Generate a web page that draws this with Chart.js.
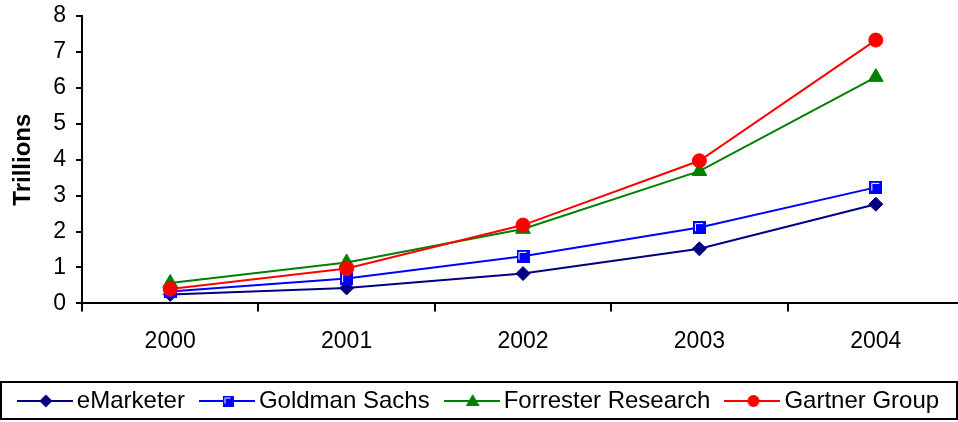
<!DOCTYPE html>
<html>
<head>
<meta charset="utf-8">
<script src="https://cdn.jsdelivr.net/npm/chart.js@4.4.1/dist/chart.umd.min.js"></script>
<style>
  html, body { margin: 0; padding: 0; background: #fff; overflow: hidden; }
  #wrap { width: 958px; height: 422px; overflow: hidden; }
</style>
</head>
<body>
<!-- canvas is a bit larger than the view: the plot runs past the right edge like the original -->
<div id="wrap"><canvas id="chart" width="964" height="427"></canvas></div>
<script>
// values (trillions)
const years = ["2000", "2001", "2002", "2003", "2004"];
const eMarketer = [0.25, 0.43, 0.83, 1.52, 2.76];
const goldmanSachs = [0.33, 0.69, 1.31, 2.11, 3.23];
const forresterResearch = [0.57, 1.14, 2.07, 3.68, 6.30];
const gartnerGroup = [0.40, 0.97, 2.18, 3.97, 7.33];

const seriesNames = ["eMarketer", "Goldman Sachs", "Forrester Research", "Gartner Group"];
const seriesColors = ["#000080", "#0000ff", "#008000", "#ff0000"];

const FONT = "'Liberation Sans', Arial, sans-serif";

// Excel-like square marker: blue with a white inner corner
function squareMarker(size) {
	const c = document.createElement("canvas");
	c.width = size; c.height = size;
	const g = c.getContext("2d");
	g.fillStyle = "#0000ff";
	g.fillRect(0, 0, size, size);
	g.strokeStyle = "#fff";
	g.lineWidth = 1;
	g.beginPath();
	g.moveTo(2.5, size - 3);
	g.lineTo(2.5, 2.5);
	g.lineTo(size - 3, 2.5);
	g.stroke();
	return c;
}

function drawMarker(g, kind, x, y, color) {
	g.fillStyle = color;
	g.beginPath();
	if (kind === "diamond") {
		g.moveTo(x, y - 6.5); g.lineTo(x + 6.5, y); g.lineTo(x, y + 6.5); g.lineTo(x - 6.5, y);
		g.closePath(); g.fill();
	} else if (kind === "square") {
		g.drawImage(squareMarker(11), x - 5.5, y - 5.5);
	} else if (kind === "triangle") {
		g.moveTo(x, y - 7); g.lineTo(x + 7, y + 5); g.lineTo(x - 7, y + 5);
		g.closePath(); g.fill();
	} else {
		g.arc(x, y, 6, 0, Math.PI * 2); g.fill();
	}
}

// legend icon: line with marker in the middle
function legendIcon(kind, color) {
	const c = document.createElement("canvas");
	c.width = 56; c.height = 18;
	const g = c.getContext("2d");
	g.strokeStyle = color;
	g.lineWidth = 2;
	g.beginPath();
	g.moveTo(0, 9); g.lineTo(56, 9);
	g.stroke();
	drawMarker(g, kind, 29, 9, color);
	return c;
}

const markerKinds = ["diamond", "square", "triangle", "circle"];
const legendIcons = markerKinds.map((k, i) => legendIcon(k, seriesColors[i]));

const legendFrame = {
	id: "legendFrame",
	afterDraw(chart) {
		const boxes = chart.legend.legendHitBoxes;
		if (!boxes || !boxes.length) return;
		const cy = boxes[0].top + boxes[0].height / 2;
		const ctx = chart.ctx;
		ctx.save();
		ctx.strokeStyle = "#000";
		ctx.lineWidth = 2;
		ctx.strokeRect(1, Math.round(cy) - 19, 956, 37);
		ctx.restore();
	}
};

const values = [eMarketer, goldmanSachs, forresterResearch, gartnerGroup];
const pointStyles = ["rectRot", squareMarker(13), "triangle", "circle"];
const pointRadii = [7, 7, 8.5, 7];

const datasets = seriesNames.map((name, i) => ({
	label: name,
	data: values[i],
	borderColor: seriesColors[i],
	backgroundColor: seriesColors[i],
	borderWidth: 2,
	pointStyle: pointStyles[i],
	pointRadius: pointRadii[i],
	pointBackgroundColor: seriesColors[i],
	pointBorderColor: seriesColors[i],
	pointBorderWidth: 1,
	tension: 0,
	fill: false,
	clip: false,
	order: 4 - i
}));

new Chart(document.getElementById("chart").getContext("2d"), {
	type: "line",
	data: { labels: years, datasets },
	options: {
		responsive: false,
		animation: false,
		events: [],
		layout: { autoPadding: false, padding: { top: 16, right: 0, bottom: 4, left: 0 } },
		plugins: {
			legend: {
				position: "bottom",
				labels: {
					usePointStyle: true,
					pointStyleWidth: 40,
					padding: 22,
					color: "#000",
					font: { family: FONT, size: 24 },
					generateLabels: chart => chart.data.datasets.map((ds, i) => ({
						text: ds.label,
						pointStyle: legendIcons[i],
						fillStyle: ds.borderColor,
						strokeStyle: ds.borderColor,
						lineWidth: 0,
						hidden: false,
						datasetIndex: i,
						fontColor: "#000"
					}))
				}
			},
			tooltip: { enabled: false }
		},
		scales: {
			x: {
				offset: true,
				grid: { offset: true, drawOnChartArea: false, tickLength: 8, color: "#000", lineWidth: 2 },
				border: { color: "#000", width: 2 },
				ticks: { padding: 16, color: "#000", font: { family: FONT, size: 23 }, maxRotation: 0 },
				afterFit(scale) {
					scale.paddingLeft = 0;
					scale.paddingRight = 0;
					scale.height -= 4;
				}
			},
			y: {
				min: 0,
				max: 8,
				ticks: { stepSize: 1, padding: 10, color: "#000", font: { family: FONT, size: 23 } },
				grid: { drawOnChartArea: false, tickLength: 6, color: "#000", lineWidth: 2 },
				border: { color: "#000", width: 2 },
				title: {
					display: true,
					text: "Trillions",
					color: "#000",
					font: { family: FONT, size: 24, weight: "bold" },
					padding: { top: 9, bottom: 0 }
				},
				afterFit(scale) {
					scale.width = 82;
					scale.paddingTop = 0;
					scale.paddingBottom = 0;
				}
			}
		}
	},
	plugins: [legendFrame]
});
</script>
</body>
</html>
